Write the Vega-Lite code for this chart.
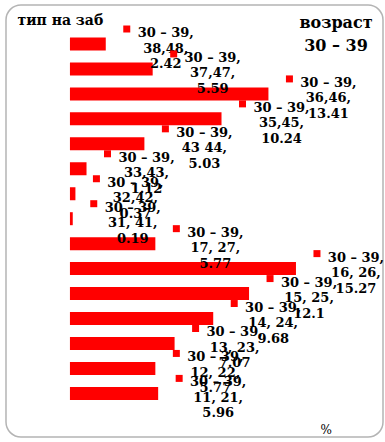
{
  "$schema": "https://vega.github.io/schema/vega-lite/v6.json",
  "width": 377,
  "height": 432,
  "autosize": {"type": "none"},
  "padding": {"left": 6, "top": 5, "right": 2, "bottom": 5},
  "background": "white",
  "title": {
    "text": ["возраст", "30 – 39"],
    "anchor": "end",
    "align": "center",
    "frame": "group",
    "orient": "top",
    "baseline": "top",
    "font": "DejaVu Serif",
    "fontWeight": "bold",
    "fontSize": 16,
    "lineHeight": 23,
    "color": "black",
    "dx": -47,
    "dy": 53
  },
  "data": {
    "values": [
      {"series": "30 – 39", "cat": "38,48", "value": 2.42},
      {"series": "30 – 39", "cat": "37,47", "value": 5.59},
      {"series": "30 – 39", "cat": "36,46", "value": 13.41},
      {"series": "30 – 39", "cat": "35,45", "value": 10.24},
      {"series": "30 – 39", "cat": "43 44", "value": 5.03},
      {"series": "30 – 39", "cat": "33,43", "value": 1.12},
      {"series": "30 – 39", "cat": "32,42", "value": 0.37},
      {"series": "30 – 39", "cat": "31, 41", "value": 0.19},
      {"series": "30 – 39", "cat": "17, 27", "value": 5.77},
      {"series": "30 – 39", "cat": "16, 26", "value": 15.27},
      {"series": "30 – 39", "cat": "15, 25", "value": 12.1},
      {"series": "30 – 39", "cat": "14, 24", "value": 9.68},
      {"series": "30 – 39", "cat": "13, 23", "value": 7.07},
      {"series": "30 – 39", "cat": "12, 22", "value": 5.77},
      {"series": "30 – 39", "cat": "11, 21", "value": 5.96}
    ]
  },
  "transform": [
    {"calculate": "datum.series + ',\\n' + datum.cat + ',\\n' + format(datum.value, '.2~f')", "as": "label"}
  ],
  "encoding": {
    "y": {
      "field": "cat",
      "type": "nominal",
      "sort": null,
      "scale": {"range": [32.5, 394.9], "paddingInner": 0.479, "paddingOuter": 0},
      "axis": {
        "orient": "left",
        "labels": false,
        "ticks": false,
        "domain": false,
        "grid": false,
        "title": "тип на заб",
        "titleAngle": 0,
        "titleAlign": "left",
        "titleBaseline": "alphabetic",
        "titleX": 11,
        "titleY": 19,
        "titleFont": "DejaVu Serif",
        "titleFontWeight": "bold",
        "titleFontSize": 14,
        "titleColor": "black"
      }
    },
    "x": {
      "field": "value",
      "type": "quantitative",
      "scale": {"domain": [-4.32, 21.15], "nice": false, "zero": false},
      "axis": {
        "orient": "bottom",
        "labels": false,
        "ticks": false,
        "domain": false,
        "grid": false,
        "title": "%",
        "titleAlign": "left",
        "titleBaseline": "alphabetic",
        "titleX": 314,
        "titleY": -4,
        "titleFont": "DejaVu Serif",
        "titleFontWeight": "normal",
        "titleFontSize": 12,
        "titleColor": "black"
      }
    }
  },
  "layer": [
    {
      "mark": {"type": "bar", "color": "#ff0000"},
      "encoding": {"x2": {"datum": 0}}
    },
    {
      "mark": {
        "type": "text",
        "align": "center",
        "baseline": "alphabetic",
        "dx": 60,
        "dy": -7,
        "lineBreak": "\n",
        "lineHeight": 15.5,
        "font": "DejaVu Serif",
        "fontWeight": "bold",
        "fontSize": 13,
        "color": "black"
      },
      "encoding": {"text": {"field": "label"}}
    },
    {
      "mark": {
        "type": "point",
        "shape": "square",
        "size": 49,
        "filled": true,
        "opacity": 1,
        "color": "#ff0000",
        "xOffset": 21,
        "yOffset": -15
      }
    }
  ],
  "config": {
    "view": {"stroke": "#b4b4b4", "strokeWidth": 1.5, "cornerRadius": 15, "fill": "white"}
  }
}
